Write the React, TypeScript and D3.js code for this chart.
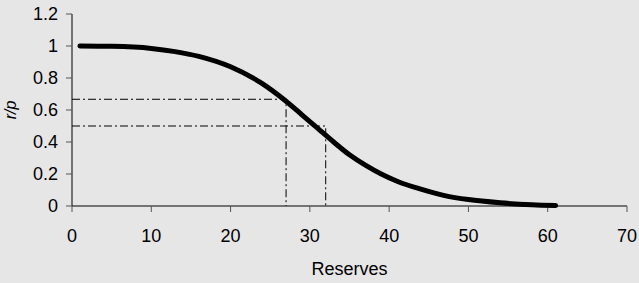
import React, { useEffect, useRef } from 'react';
import * as d3 from 'd3';

// values
const reserves = [1, 5, 10, 13, 16, 20, 24, 27, 29, 31, 33, 35, 37, 39, 41, 44, 47, 50, 54, 58, 61];
const ratio = [1.0, 0.998, 0.985, 0.965, 0.935, 0.87, 0.765, 0.655, 0.57, 0.485, 0.4, 0.32, 0.255, 0.2, 0.155, 0.105, 0.065, 0.04, 0.02, 0.008, 0.003];
const xTicks = [0, 10, 20, 30, 40, 50, 60, 70];
const yTicks = [0, 0.2, 0.4, 0.6, 0.8, 1, 1.2];
// reference lines: [reserves, ratio]
const guides = [
  [27, 0.667],
  [32, 0.5],
];

const W = 639;
const H = 283;

export default function App() {
  const ref = useRef<SVGSVGElement>(null);

  useEffect(() => {
    const svg = d3.select(ref.current);
    svg.selectAll('*').remove();

    const x = d3.scaleLinear().domain([0, 70]).range([72, 627]);
    const y = d3.scaleLinear().domain([0, 1.2]).range([206, 14]);

    svg.append('rect').attr('width', W).attr('height', H).attr('fill', '#e6e6e6');

    const font = 'Liberation Sans, Arial, sans-serif';

    // y axis
    svg.append('line')
      .attr('x1', x(0)).attr('x2', x(0))
      .attr('y1', y(0)).attr('y2', y(1.2))
      .attr('stroke', '#000').attr('stroke-width', 1);
    yTicks.forEach(t => {
      svg.append('line')
        .attr('x1', x(0) - 6).attr('x2', x(0))
        .attr('y1', y(t)).attr('y2', y(t))
        .attr('stroke', '#555');
      svg.append('text')
        .attr('x', 58).attr('y', y(t))
        .attr('dy', '0.36em')
        .attr('text-anchor', 'end')
        .attr('font-family', font).attr('font-size', 18)
        .attr('fill', '#000')
        .text(String(t));
    });

    // x axis
    svg.append('line')
      .attr('x1', x(0)).attr('x2', x(70))
      .attr('y1', y(0)).attr('y2', y(0))
      .attr('stroke', '#000').attr('stroke-width', 1);
    xTicks.forEach(t => {
      svg.append('line')
        .attr('x1', x(t)).attr('x2', x(t))
        .attr('y1', y(0)).attr('y2', y(0) + 6)
        .attr('stroke', '#555');
      svg.append('text')
        .attr('x', x(t)).attr('y', 242)
        .attr('text-anchor', 'middle')
        .attr('font-family', font).attr('font-size', 18)
        .text(String(t));
    });

    svg.append('text')
      .attr('x', (x(0) + x(70)) / 2).attr('y', 275)
      .attr('text-anchor', 'middle')
      .attr('font-family', font).attr('font-size', 18)
      .text('Reserves');

    svg.append('text')
      .attr('transform', `translate(16,${(y(0) + y(1.2)) / 2}) rotate(-90)`)
      .attr('text-anchor', 'middle')
      .attr('font-family', font).attr('font-size', 16)
      .attr('font-style', 'italic')
      .text('r/p');

    // dash-dot guides
    guides.forEach(([gx, gy]) => {
      svg.append('path')
        .attr('d', `M${x(0)},${y(gy)}H${x(gx)}V${y(0)}`)
        .attr('fill', 'none')
        .attr('stroke', '#000')
        .attr('stroke-width', 1)
        .attr('stroke-dasharray', '8,3,2,3');
    });

    const line = d3.line<number>()
      .x((d, i) => x(reserves[i]))
      .y(d => y(d))
      .curve(d3.curveMonotoneX);

    svg.append('path')
      .attr('d', line(ratio))
      .attr('fill', 'none')
      .attr('stroke', '#000')
      .attr('stroke-width', 5)
      .attr('stroke-linecap', 'round');
  }, []);

  return (
    <svg
      ref={ref}
      width={W}
      height={H}
      style={{ position: 'absolute', left: 0, top: 0 }}
    />
  );
}
